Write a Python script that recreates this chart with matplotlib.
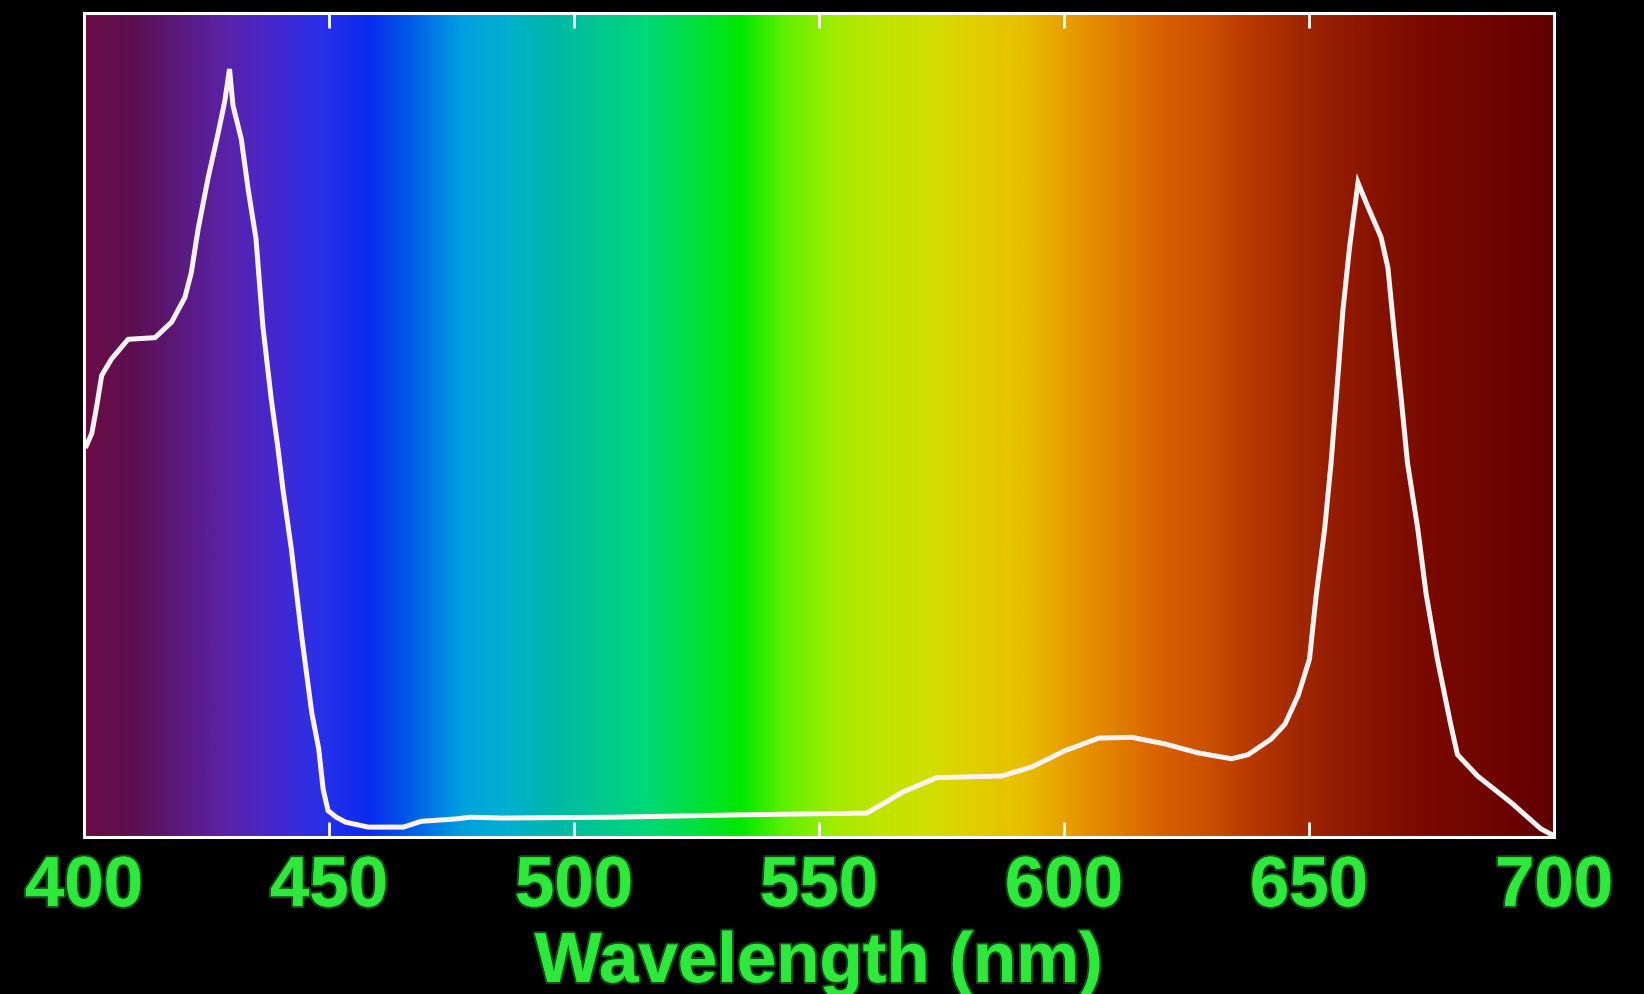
import numpy as np
import matplotlib
matplotlib.use("Agg")
import matplotlib.pyplot as plt
import matplotlib.patheffects as pe
from matplotlib.colors import to_rgb

# emission spectrum (relative intensity, fraction of axis height)
wavelength = [400.5, 401.6, 402.6, 403.6, 405.6, 409.0, 414.5, 417.9, 420.6, 421.9,
              423.3, 425.3, 427.4, 428.7, 429.7, 430.4, 432.1, 433.5, 435.1, 436.5,
              438.2, 439.6, 440.6, 442.3, 444.5, 446.5, 447.9, 448.8, 449.8, 451.5,
              453.4, 458.0, 465.2, 468.8, 476.0, 478.8, 485.2, 508.0, 535.0, 559.7,
              563.0, 566.9, 574.0, 587.3, 593.4, 600.3, 607.1, 613.8, 620.6, 627.4,
              634.2, 637.6, 642.3, 645.1, 647.8, 650.1, 651.5, 653.2, 654.5, 655.9,
              656.9, 658.3, 660.0, 662.0, 664.7, 666.1, 667.4, 668.8, 670.1, 672.2,
              673.9, 676.2, 678.9, 680.3, 684.4, 691.2, 697.3, 699.5]
intensity = [0.475, 0.49, 0.523, 0.560, 0.580, 0.604, 0.606, 0.625, 0.655, 0.685,
             0.738, 0.799, 0.855, 0.892, 0.932, 0.888, 0.847, 0.786, 0.726, 0.62,
             0.532, 0.471, 0.422, 0.350, 0.24, 0.15, 0.107, 0.058, 0.032, 0.024,
             0.018, 0.012, 0.012, 0.019, 0.022, 0.024, 0.023, 0.024, 0.027, 0.029,
             0.040, 0.054, 0.072, 0.074, 0.085, 0.105, 0.120, 0.121, 0.113, 0.102,
             0.095, 0.100, 0.119, 0.137, 0.172, 0.216, 0.295, 0.374, 0.454, 0.559,
             0.638, 0.717, 0.794, 0.765, 0.728, 0.691, 0.612, 0.533, 0.454, 0.374,
             0.295, 0.216, 0.137, 0.100, 0.074, 0.042, 0.010, 0.003]

# background spectrum colours
stop_wl = [400, 410, 420, 429, 439, 448, 458, 467, 477, 486, 496, 505, 515, 524, 534,
           543, 553, 562, 572, 581, 591, 600, 610, 620, 629, 638, 648, 658, 667, 676,
           686, 700]
stop_col = ["#6a0c44", "#5c1050", "#5a1a80", "#5a22a8", "#4428d0", "#2a30e8", "#0a2aee",
            "#0060e8", "#00a0e0", "#00b0d0", "#00b8a8", "#00c890", "#00d878", "#00e040",
            "#00e800", "#60f000", "#a0ec00", "#c0e400", "#d0e000", "#e0d000", "#e8c000",
            "#e8a000", "#e08000", "#d86000", "#cc5000", "#b83800", "#a02800", "#901800",
            "#801000", "#780800", "#700500", "#600000"]

ticks = [400, 450, 500, 550, 600, 650, 700]
green = "#2ee83c"

fig = plt.figure(figsize=(16.44, 9.95), dpi=100, facecolor="black")
ax = fig.add_axes([84 / 1644, 1 - 838 / 995, 1470 / 1644, 824 / 995])
ax.set_facecolor("black")

grid = np.linspace(400, 700, 600)
rgb = np.array([to_rgb(c) for c in stop_col])
img = np.stack([np.interp(grid, stop_wl, rgb[:, i]) for i in range(3)], axis=-1)
ax.imshow(img[np.newaxis, :, :], extent=[400, 700, 0, 1], aspect="auto",
          interpolation="bilinear", zorder=0)

ax.plot(wavelength, intensity, color="#fff2f2", lw=3.6, solid_joinstyle="miter", zorder=2)

ax.set_xlim(400, 700)
ax.set_ylim(0, 1)
ax.set_xticks(ticks)
ax.set_yticks([])
ax.tick_params(axis="x", which="both", direction="in", length=11, width=2,
               color="white", top=True, bottom=True, pad=13,
               labelsize=51, labelcolor=green)
for lab in ax.get_xticklabels():
    lab.set_fontfamily(["Liberation Sans", "DejaVu Sans"])
    lab.set_fontweight("bold")
    lab.set_path_effects([pe.withStroke(linewidth=3, foreground=(0.18, 0.9, 0.24, 0.35))])

for sp in ax.spines.values():
    sp.set_color("white")
    sp.set_linewidth(2.2)

xl = ax.set_xlabel("Wavelength (nm)", fontsize=51, fontweight="bold", color=green,
                   family=["Liberation Sans", "DejaVu Sans"], va="baseline")
xl.set_path_effects([pe.withStroke(linewidth=3, foreground=(0.18, 0.9, 0.24, 0.35))])
ax.xaxis.set_label_coords(0.5, (838 - 983) / 824)

fig.savefig("out.png", dpi=100, facecolor="black")
